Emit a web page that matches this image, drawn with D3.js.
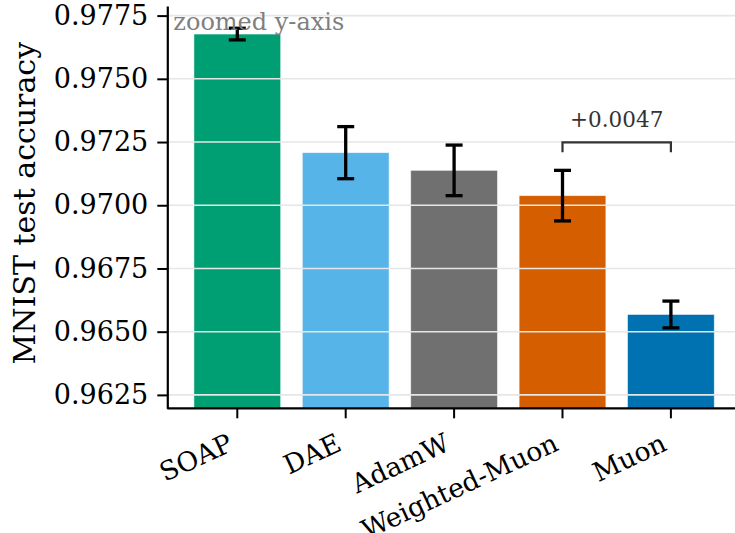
<!DOCTYPE html>
<html>
<head>
<meta charset="utf-8">
<script src="https://cdn.jsdelivr.net/npm/d3@7"></script>
<style>
  html, body { margin: 0; padding: 0; background: #fff; }
  svg { display: block; }
  text { font-family: "DejaVu Serif", serif; }
</style>
</head>
<body>
<div id="chart"></div>
<script>
// Optimizer comparison on MNIST: mean test accuracy with error bars
const optimizers = ["SOAP", "DAE", "AdamW", "Weighted-Muon", "Muon"];
const accuracy   = [0.97677, 0.97208, 0.97138, 0.97038, 0.96568];
const errors     = [0.00023, 0.00103, 0.00100, 0.00100, 0.00053];
const barColors  = ["#009E73", "#56B4E9", "#707070", "#D55E00", "#0072B2"];
const yTicks     = [0.9625, 0.9650, 0.9675, 0.9700, 0.9725, 0.9750, 0.9775];
const yDomain    = [0.96197, 0.97788];
const gapPair    = ["Weighted-Muon", "Muon"];

const W = 735, H = 533;
const plot = { left: 167.3, right: 741, top: 6, bottom: 408.3 };

const svg = d3.select("#chart").append("svg")
  .attr("width", W).attr("height", H)
  .attr("viewBox", `0 0 ${W} ${H}`);

const x = d3.scaleBand()
  .domain(optimizers)
  .range([183.1, 725.1])
  .paddingInner(0.2)
  .paddingOuter(0.1);

const y = d3.scaleLinear().domain(yDomain).range([plot.bottom, plot.top]);

const rows = optimizers.map((name, i) => ({
  name, acc: accuracy[i], err: errors[i], color: barColors[i]
}));

// bars
svg.append("g").selectAll("rect").data(rows).join("rect")
  .attr("x", d => x(d.name))
  .attr("width", x.bandwidth())
  .attr("y", d => y(d.acc))
  .attr("height", d => plot.bottom - y(d.acc))
  .attr("fill", d => d.color)
  .attr("stroke", "#ffffff")
  .attr("stroke-opacity", 0.6)
  .attr("stroke-width", 0.8);

// horizontal grid lines, drawn over the bars
svg.append("g").selectAll("line").data(yTicks).join("line")
  .attr("x1", plot.left).attr("x2", plot.right)
  .attr("y1", d => y(d)).attr("y2", d => y(d))
  .attr("stroke", "#e6e6e6")
  .attr("stroke-width", 1.6);

// error bars
const eb = svg.append("g").attr("stroke", "#000").attr("stroke-width", 3.3);
rows.forEach(d => {
  const cx = x(d.name) + x.bandwidth() / 2;
  const y0 = y(d.acc - d.err), y1 = y(d.acc + d.err);
  eb.append("line").attr("x1", cx).attr("x2", cx).attr("y1", y0).attr("y2", y1);
  eb.append("line").attr("x1", cx - 8.5).attr("x2", cx + 8.5).attr("y1", y0).attr("y2", y0);
  eb.append("line").attr("x1", cx - 8.5).attr("x2", cx + 8.5).attr("y1", y1).attr("y2", y1);
});

// y axis
const yAxis = svg.append("g")
  .attr("transform", `translate(${plot.left},0)`)
  .call(d3.axisLeft(y).tickValues(yTicks).tickFormat(d3.format(".4f"))
    .tickSizeInner(10).tickSizeOuter(0).tickPadding(9));
yAxis.select(".domain").attr("stroke", "#000").attr("stroke-width", 2.2);
yAxis.selectAll(".tick line").attr("stroke", "#000").attr("stroke-width", 2);
yAxis.selectAll(".tick text")
  .attr("font-family", "DejaVu Serif").attr("font-size", 27).attr("fill", "#000");

// x axis
const xAxis = svg.append("g")
  .attr("transform", `translate(0,${plot.bottom})`)
  .call(d3.axisBottom(x).tickSizeInner(10).tickSizeOuter(0).tickFormat(""));
xAxis.select(".domain")
  .attr("d", `M${plot.left},0H${plot.right}`)
  .attr("stroke", "#000").attr("stroke-width", 2.2);
xAxis.selectAll(".tick line").attr("stroke", "#000").attr("stroke-width", 2);

// rotated category labels, right edge of the rotated box at the tick
const fs = 26.5, ang = 25 * Math.PI / 180;
const labelTop = plot.bottom + 10 + 9;
svg.append("g").selectAll("text").data(optimizers).join("text")
  .attr("transform", d => {
    const tx = x(d) + x.bandwidth() / 2 - 0.236 * fs * Math.sin(ang);
    const ty = labelTop + 0.928 * fs * Math.cos(ang);
    return `translate(${tx},${ty}) rotate(-25)`;
  })
  .attr("text-anchor", "end")
  .attr("font-size", fs)
  .attr("fill", "#000")
  .text(d => d);

// y axis title
svg.append("text")
  .attr("transform", `translate(34.5,${(plot.top + plot.bottom) / 2 - 4}) rotate(-90)`)
  .attr("text-anchor", "middle")
  .attr("font-size", 30)
  .attr("fill", "#000")
  .text("MNIST test accuracy");

// note in the top-left corner of the axes
svg.append("text")
  .attr("x", plot.left + 6).attr("y", 30)
  .attr("font-size", 24)
  .attr("fill", "#7f7f7f")
  .text("zoomed y-axis");

// bracket showing the gap between the pair
const pa = rows.find(d => d.name === gapPair[0]);
const pb = rows.find(d => d.name === gapPair[1]);
const xa = x(pa.name) + x.bandwidth() / 2, xb = x(pb.name) + x.bandwidth() / 2;
const bracketY = y(Math.max(pa.acc + pa.err, pb.acc + pb.err)) - 28;
svg.append("path")
  .attr("d", `M${xa},${bracketY + 10}V${bracketY}H${xb}V${bracketY + 10}`)
  .attr("fill", "none")
  .attr("stroke", "#333")
  .attr("stroke-width", 2.2);
svg.append("text")
  .attr("x", (xa + xb) / 2).attr("y", bracketY - 15)
  .attr("text-anchor", "middle")
  .attr("font-size", 21.5)
  .attr("fill", "#333")
  .text(d3.format("+.4f")(pa.acc - pb.acc));
</script>
</body>
</html>
